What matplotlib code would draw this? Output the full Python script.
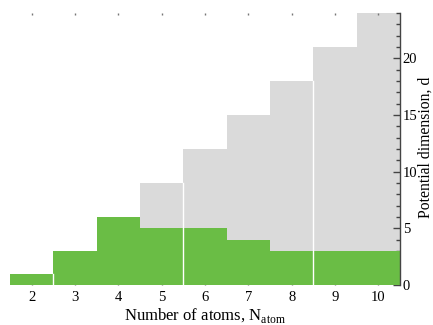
import numpy as np
import matplotlib
matplotlib.use("Agg")
import matplotlib.pyplot as plt

plt.rcParams['font.family'] = ['Liberation Serif', 'DejaVu Serif']
plt.rcParams['mathtext.fontset'] = 'custom'
plt.rcParams['mathtext.rm'] = 'Liberation Serif'

## DATA
n_atoms = [2, 3, 4, 5, 6, 7, 8, 9, 10]
potential_dim = [1, 3, 6, 9, 12, 15, 18, 21, 24]   # grey
effective_dim = [1, 3, 6, 5, 5, 4, 3, 3, 3]        # green
seam_after = [2, 5, 8]  # white seams seen between bars

grey = '#dadada'
green = '#6abd45'

fig = plt.figure(figsize=(4.33, 3.25), dpi=100)
ax = fig.add_axes([0.023, 0.123, 0.901, 0.837])

ax.bar(n_atoms, potential_dim, width=1.0, color=grey, linewidth=0, zorder=1)
ax.bar(n_atoms, effective_dim, width=1.0, color=green, linewidth=0, zorder=2)

# thin white seams between some bars
for n in seam_after:
    i = n_atoms.index(n)
    h = min(potential_dim[i], potential_dim[i + 1])
    ax.plot([n + 0.5, n + 0.5], [0, h], color='white', lw=1.0, zorder=3)

ax.set_xlim(1.5, 10.5)
ax.set_ylim(0, 24)

for s in ['left', 'top', 'bottom']:
    ax.spines[s].set_visible(False)
ax.spines['right'].set_color('#444444')
ax.spines['right'].set_linewidth(1.0)

ax.yaxis.tick_right()
ax.set_yticks([0, 5, 10, 15, 20])
ax.set_yticks(np.arange(0, 25, 1), minor=True)
ax.tick_params(axis='y', which='major', direction='in', length=5, width=1.0,
               color='#444444', labelsize=10.5, pad=2)
ax.tick_params(axis='y', which='minor', direction='in', length=3, width=1.0,
               color='#444444')

ax.set_xticks(n_atoms)
ax.tick_params(axis='x', which='both', direction='in', length=1.5, width=1.0,
               color='#777777', top=True, bottom=True, labelsize=10.5, pad=4)
ax.tick_params(axis='x', which='minor', length=0)

ax.set_xlabel(r'Number of atoms, N$_{\rm atom}$', fontsize=12, labelpad=2)
fig.text(0.984, 0.546, 'Potential dimension, d', rotation=90,
         ha='center', va='center', fontsize=11.3)

fig.savefig('out.png', dpi=100)
